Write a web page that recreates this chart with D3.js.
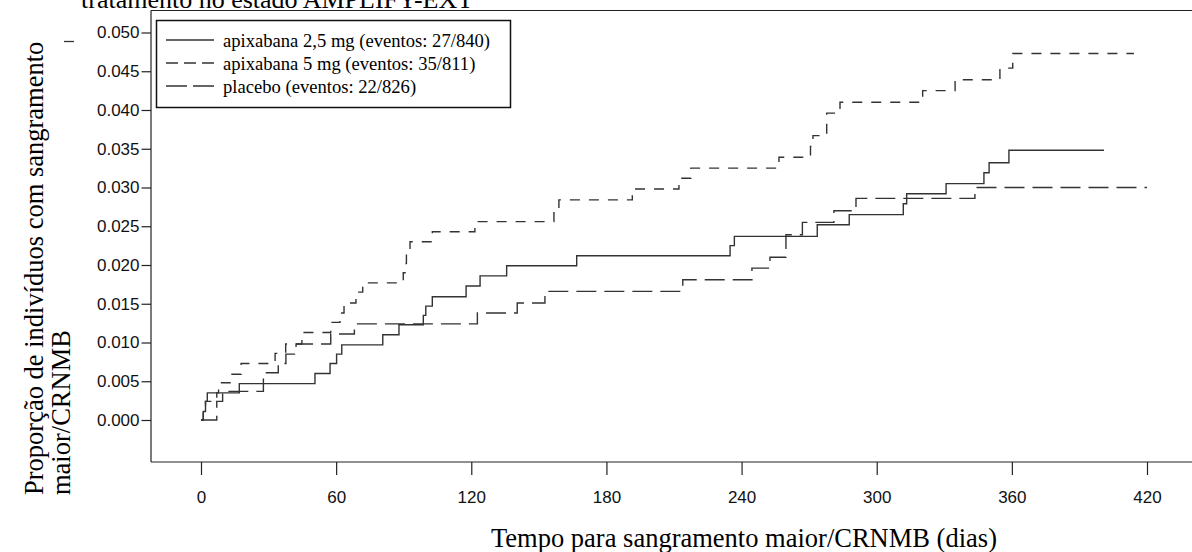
<!DOCTYPE html>
<html>
<head>
<meta charset="utf-8">
<script src="https://cdn.jsdelivr.net/npm/d3@7"></script>
<style>
  html, body { margin: 0; padding: 0; background: #fff; }
  svg { display: block; }
  .serif { font-family: "Liberation Serif", "Times New Roman", serif; fill: #000; }
  .tick text { font-family: "Liberation Sans", Arial, sans-serif; font-size: 17px; fill: #111; }
</style>
</head>
<body>
<svg id="chart" width="1192" height="552"></svg>
<script>
// ---- data ----
const xTickValues = [0, 60, 120, 180, 240, 300, 360, 420];
const yTickValues = [0, 0.005, 0.010, 0.015, 0.020, 0.025, 0.030, 0.035, 0.040, 0.045, 0.050];
const yTickLabels = ["0.000", "0.005", "0.010", "0.015", "0.020", "0.025", "0.030", "0.035", "0.040", "0.045", "0.050"];

const seriesNames = [
  "apixabana 2,5 mg (eventos: 27/840)",
  "apixabana 5 mg (eventos: 35/811)",
  "placebo (eventos: 22/826)"
];

const apix25Days = [1.0, 2.0, 2.8, 17.0, 50.6, 57.3, 60.2, 62.5, 80.7, 87.9, 98.7, 99.8, 102.7, 117.7, 123.9, 135.7, 166.8, 234.9, 236.8, 273.6, 287.8, 311.8, 313.3, 330.8, 347.6, 349.9, 358.7];
const apix25Prop = [0.0011, 0.0024, 0.0035, 0.0047, 0.0060, 0.0073, 0.0085, 0.0097, 0.0110, 0.0123, 0.0135, 0.0147, 0.0159, 0.0173, 0.0186, 0.0199, 0.0212, 0.0225, 0.0237, 0.0252, 0.0265, 0.0279, 0.0292, 0.0305, 0.0319, 0.0332, 0.0348];
const apix25LastDay = 400.9;

const apix5Days = [1.0, 2.0, 7.0, 7.8, 12.9, 17.8, 32.9, 37.6, 44.8, 57.6, 61.7, 63.5, 68.8, 71.8, 89.8, 90.6, 91.2, 92.8, 102.7, 121.6, 156.7, 158.9, 191.5, 212.2, 217.5, 256.6, 270.6, 271.7, 277.8, 283.7, 320.4, 334.8, 354.7, 360.4];
const apix5Prop = [0.0011, 0.0024, 0.0035, 0.0048, 0.0059, 0.0073, 0.0086, 0.0098, 0.0113, 0.0126, 0.0138, 0.0151, 0.0165, 0.0177, 0.0190, 0.0202, 0.0214, 0.0230, 0.0243, 0.0256, 0.0269, 0.0284, 0.0298, 0.0312, 0.0325, 0.0339, 0.0353, 0.0367, 0.0396, 0.0410, 0.0425, 0.0439, 0.0454, 0.0473];
const apix5LastDay = 414.2;

const placeboDays = [7.0, 9.6, 27.7, 34.3, 37.7, 42.2, 57.6, 68.1, 122.7, 140.4, 152.7, 213.9, 244.6, 252.6, 259.7, 267.0, 281.0, 290.8, 343.6];
const placeboProp = [0.0024, 0.0037, 0.0061, 0.0073, 0.0085, 0.0098, 0.0111, 0.0124, 0.0138, 0.0151, 0.0166, 0.0181, 0.0196, 0.0210, 0.0239, 0.0255, 0.0270, 0.0286, 0.0300];
const placeboLastDay = 420;

// ---- layout ----
const svg = d3.select("#chart");
svg.append("rect").attr("width", 1192).attr("height", 552).attr("fill", "#fff");

const frame = { left: 151, right: 1192, top: 10.5, bottom: 462 };
const x = d3.scaleLinear().domain([0, 420]).range([201, 1147]);
const y = d3.scaleLinear().domain([0, 0.05]).range([420, 32.5]);

// frame lines
const axisColor = "#222";
svg.append("line").attr("x1", frame.left).attr("x2", frame.right).attr("y1", frame.top).attr("y2", frame.top)
  .attr("stroke", axisColor).attr("stroke-width", 1.2);
svg.append("line").attr("x1", frame.left).attr("x2", frame.left).attr("y1", frame.top).attr("y2", frame.bottom)
  .attr("stroke", axisColor).attr("stroke-width", 1.2);
svg.append("line").attr("x1", frame.left).attr("x2", frame.right).attr("y1", frame.bottom).attr("y2", frame.bottom)
  .attr("stroke", axisColor).attr("stroke-width", 1.2);

// y axis
const yAxis = d3.axisLeft(y).tickValues(yTickValues)
  .tickFormat((d, i) => yTickLabels[i]).tickSize(9.5).tickPadding(2);
const gy = svg.append("g").attr("transform", `translate(${frame.left},0)`).call(yAxis);
gy.select(".domain").remove();
gy.selectAll(".tick line").attr("stroke", axisColor).attr("stroke-width", 1.2);

// x axis
const xAxis = d3.axisBottom(x).tickValues(xTickValues).tickFormat(d3.format("d")).tickSize(13).tickPadding(16);
const gx = svg.append("g").attr("transform", `translate(0,${frame.bottom})`).call(xAxis);
gx.select(".domain").remove();
gx.selectAll(".tick line").attr("stroke", axisColor).attr("stroke-width", 1.2);

// ---- curves ----
function stepPoints(days, props, lastDay) {
  const pts = [[0, 0]];
  days.forEach((d, i) => pts.push([d, props[i]]));
  pts.push([lastDay, props[props.length - 1]]);
  return pts;
}
const line = d3.line().x(d => x(d[0])).y(d => y(d[1])).curve(d3.curveStepAfter);

const series = [
  { pts: stepPoints(apix25Days, apix25Prop, apix25LastDay), dash: null, legendDash: null },
  { pts: stepPoints(apix5Days, apix5Prop, apix5LastDay), dash: "10,9", legendDash: "12,6" },
  { pts: stepPoints(placeboDays, placeboProp, placeboLastDay), dash: "20,8", legendDash: "21,6" }
];

const curveColor = "#333";
series.forEach(s => {
  svg.append("path").datum(s.pts).attr("d", line)
    .attr("fill", "none").attr("stroke", curveColor).attr("stroke-width", 1.4)
    .attr("stroke-dasharray", s.dash);
});

// ---- legend ----
const lg = svg.append("g");
lg.append("rect").attr("x", 156.5).attr("y", 20.5).attr("width", 354).attr("height", 87)
  .attr("fill", "#fff").attr("stroke", "#111").attr("stroke-width", 1.5);
series.forEach((s, i) => {
  const cy = 40 + i * 23;
  lg.append("line").attr("x1", 166).attr("x2", 214).attr("y1", cy).attr("y2", cy)
    .attr("stroke", curveColor).attr("stroke-width", 1.4).attr("stroke-dasharray", s.legendDash);
  lg.append("text").attr("class", "serif").attr("x", 223).attr("y", cy + 6.5)
    .style("font-size", "18.6px").text(seriesNames[i]);
});

// ---- titles ----
svg.append("text").attr("class", "serif").attr("x", 81).attr("y", 8)
  .style("font-size", "26px").text("tratamento no estado AMPLIFY-EXT");

svg.append("text").attr("class", "serif")
  .attr("transform", "translate(43,495) rotate(-90)")
  .style("font-size", "26.5px").text("Proporção de indivíduos com sangramento");
svg.append("text").attr("class", "serif")
  .attr("transform", "translate(70,495) rotate(-90)")
  .style("font-size", "26.5px").text("maior/CRNMB");

svg.append("text").attr("class", "serif").attr("x", 744).attr("y", 547)
  .attr("text-anchor", "middle").style("font-size", "26.5px")
  .text("Tempo para sangramento maior/CRNMB (dias)");

// small stray mark near the axis title
svg.append("line").attr("x1", 64).attr("x2", 74).attr("y1", 41.5).attr("y2", 41.5)
  .attr("stroke", "#333").attr("stroke-width", 1.3);
</script>
</body>
</html>
